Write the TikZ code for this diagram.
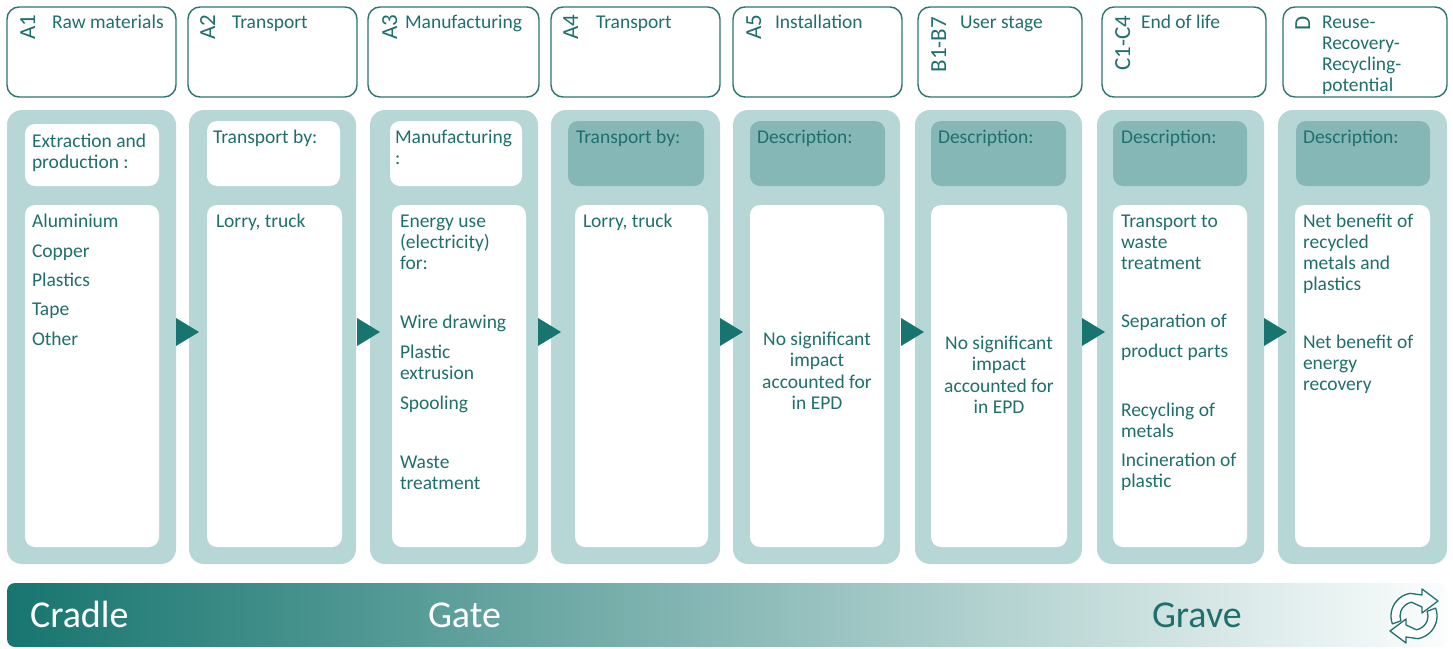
\documentclass[tikz,border=0pt]{standalone}
\usepackage{fontspec}
\setmainfont{Carlito}
\definecolor{tealtext}{HTML}{1F706C}
\definecolor{hdrline}{HTML}{2D7471}
\definecolor{panelfill}{HTML}{B7D7D7}
\definecolor{darkfill}{HTML}{86B7B7}
\definecolor{tricol}{HTML}{17746F}
\definecolor{barL}{HTML}{17756F}
\definecolor{barR}{HTML}{FBFDFD}
\tikzset{
  hdr/.style={draw=hdrline, line width=1.4pt, fill=white, rounded corners=12pt, inner sep=0pt, outer sep=0pt},
  panel/.style={fill=panelfill, rounded corners=15pt, inner sep=0pt, outer sep=0pt},
  inw/.style={fill=white, rounded corners=10pt, inner sep=0pt, outer sep=0pt},
  ind/.style={fill=darkfill, rounded corners=10pt, inner sep=0pt, outer sep=0pt},
  tri/.style={fill=tricol},
  lbl/.style={font=\fontsize{19.5}{21}\selectfont, text=tealtext, inner sep=0pt, outer sep=0pt},
  rot/.style={font=\fontsize{23}{25}\selectfont, text=tealtext, inner sep=0pt, outer sep=0pt, rotate=90, anchor=base east},
  big/.style={font=\fontsize{38}{40}\selectfont, inner sep=0pt, outer sep=0pt, anchor=base west},
  icon/.style={draw=tealtext, line width=1.3pt, fill=white, line join=round}
}
\newcommand{\bx}[6]{\node[#1, minimum width={#5-#3}, minimum height={#6-#4}] (#2) at ({(#3+#5)/2},{(#4+#6)/2}) {};}
\newcommand{\tx}[4]{\node[lbl, anchor=base west] (#1) at (#2,#3) {#4};}
\newcommand{\tcn}[4]{\node[lbl, anchor=base] (#1) at (#2,#3) {#4};}
\begin{document}
\begin{tikzpicture}[x=1pt,y=-1pt]
\useasboundingbox (0,0) rectangle (1453,648);
\fill[white] (0,0) rectangle (1453,648);

% header boxes
\bx{hdr}{h1}{7}{7}{176}{97}
\bx{hdr}{h2}{188}{7}{357}{97}
\bx{hdr}{h3}{368}{7}{539}{97}
\bx{hdr}{h4}{551}{7}{720}{97}
\bx{hdr}{h5}{733}{7}{902}{97}
\bx{hdr}{h6}{918}{7}{1082}{97}
\bx{hdr}{h7}{1102}{7}{1266}{97}
\bx{hdr}{h8}{1283}{7}{1447}{97}

% header labels
\node[rot] (r1) at (35,15) {A1};
\node[rot] (r2) at (215,15) {A2};
\node[rot] (r3) at (397,15) {A3};
\node[rot] (r4) at (578,15) {A4};
\node[rot] (r5) at (761,15) {A5};
\node[rot] (r6) at (946,17) {B1-B7};
\node[rot] (r7) at (1130,16) {C1-C4};
\node[rot] (r8) at (1310,16) {D};
\tx{t1}{52}{28}{Raw materials}
\tx{t2}{232}{28}{Transport}
\tx{t3}{405}{28}{Manufacturing}
\tx{t4}{596}{28}{Transport}
\tx{t5}{775}{28}{Installation}
\tx{t6}{960}{28}{User stage}
\tx{t7}{1141}{28}{End of life}
\tx{t8a}{1322}{28}{Reuse-}
\tx{t8b}{1322}{49}{Recovery-}
\tx{t8c}{1322}{70}{Recycling-}
\tx{t8d}{1322}{91}{potential}

% panels
\bx{panel}{p1}{7}{110}{176}{564}
\bx{panel}{p2}{189}{110}{356}{564}
\bx{panel}{p3}{370}{110}{538}{564}
\bx{panel}{p4}{551}{110}{720}{564}
\bx{panel}{p5}{733}{110}{900}{564}
\bx{panel}{p6}{915}{110}{1082}{564}
\bx{panel}{p7}{1097}{110}{1264}{564}
\bx{panel}{p8}{1278}{110}{1447}{564}

% inner top boxes
\bx{inw}{a1}{25}{124}{159}{186}
\bx{inw}{a2}{207}{121}{340}{186}
\bx{inw}{a3}{390}{121}{522}{186}
\bx{ind}{a4}{568}{121}{704}{186}
\bx{ind}{a5}{750}{121}{885}{186}
\bx{ind}{a6}{931}{121}{1066}{186}
\bx{ind}{a7}{1113}{121}{1247}{186}
\bx{ind}{a8}{1296}{121}{1430}{186}

% inner bottom boxes
\bx{inw}{b1}{25}{205}{159}{547}
\bx{inw}{b2}{207}{205}{342}{547}
\bx{inw}{b3}{392}{205}{526}{547}
\bx{inw}{b4}{575}{205}{708}{547}
\bx{inw}{b5}{750}{205}{884}{547}
\bx{inw}{b6}{931}{205}{1067}{547}
\bx{inw}{b7}{1113}{205}{1247}{547}
\bx{inw}{b8}{1295}{205}{1430}{547}

% arrow triangles
\foreach \xx in {176,357,538,720,901,1082,1264}{
  \fill[tri] (\xx,318) -- ({\xx+23},332) -- (\xx,346) -- cycle;
}

% top inner texts
\tx{u1a}{32}{147}{Extraction and}
\tx{u1b}{32}{168}{production :}
\tx{u2}{213}{143}{Transport by:}
\tx{u3a}{395}{143}{Manufacturing}
\tx{u3b}{395}{164}{:}
\tx{u4}{576}{143}{Transport by:}
\tx{u5}{757}{143}{Description:}
\tx{u6}{938}{143}{Description:}
\tx{u7}{1121}{143}{Description:}
\tx{u8}{1303}{143}{Description:}

% column 1
\tx{c1a}{32}{227}{Aluminium}
\tx{c1b}{32}{257}{Copper}
\tx{c1c}{32}{286}{Plastics}
\tx{c1d}{32}{315}{Tape}
\tx{c1e}{32}{345}{Other}
% column 2
\tx{c2a}{216}{227}{Lorry, truck}
% column 3
\tx{c3a}{400}{227}{Energy use}
\tx{c3b}{400}{248}{(electricity)}
\tx{c3c}{400}{269}{for:}
\tx{c3d}{400}{328}{Wire drawing}
\tx{c3e}{400}{358}{Plastic}
\tx{c3f}{400}{379}{extrusion}
\tx{c3g}{400}{409}{Spooling}
\tx{c3h}{400}{468}{Waste}
\tx{c3i}{400}{489}{treatment}
% column 4
\tx{c4a}{583}{227}{Lorry, truck}
% column 5
\tcn{c5a}{817}{345}{No significant}
\tcn{c5b}{817}{366}{impact}
\tcn{c5c}{817}{388}{accounted for}
\tcn{c5d}{817}{409}{in EPD}
% column 6
\tcn{c6a}{999}{349}{No significant}
\tcn{c6b}{999}{370}{impact}
\tcn{c6c}{999}{392}{accounted for}
\tcn{c6d}{999}{413}{in EPD}
% column 7
\tx{c7a}{1121}{227}{Transport to}
\tx{c7b}{1121}{248}{waste}
\tx{c7c}{1121}{269}{treatment}
\tx{c7d}{1121}{327}{Separation of}
\tx{c7e}{1121}{357}{product parts}
\tx{c7f}{1121}{416}{Recycling of}
\tx{c7g}{1121}{437}{metals}
\tx{c7h}{1121}{466}{Incineration of}
\tx{c7i}{1121}{487}{plastic}
% column 8
\tx{c8a}{1303}{227}{Net benefit of}
\tx{c8b}{1303}{248}{recycled}
\tx{c8c}{1303}{269}{metals and}
\tx{c8d}{1303}{290}{plastics}
\tx{c8e}{1303}{348}{Net benefit of}
\tx{c8f}{1303}{369}{energy}
\tx{c8g}{1303}{390}{recovery}

% bottom bar
\shade[left color=barL, right color=barR, rounded corners=8pt] (7,583) rectangle (1447,647);
\node[big, text=white] (cradle) at (30,627) {Cradle};
\node[big, text=white] (gate) at (428,627) {Gate};
\node[big, text=tealtext] (grave) at (1152,627) {Grave};

% recycle icon
\begin{scope}[shift={(1414,616)}, yscale=-1]
  \foreach \ang in {0,180}{
    \begin{scope}[rotate=\ang]
      \draw[icon] (200:23) arc[start angle=200, end angle=100, radius=23]
        -- (8,21) -- (8,27) -- (24,15) -- (8,3) -- (8,9) -- (100:14)
        arc[start angle=100, end angle=200, radius=14] -- cycle;
    \end{scope}
  }
\end{scope}
\end{tikzpicture}
\end{document}
